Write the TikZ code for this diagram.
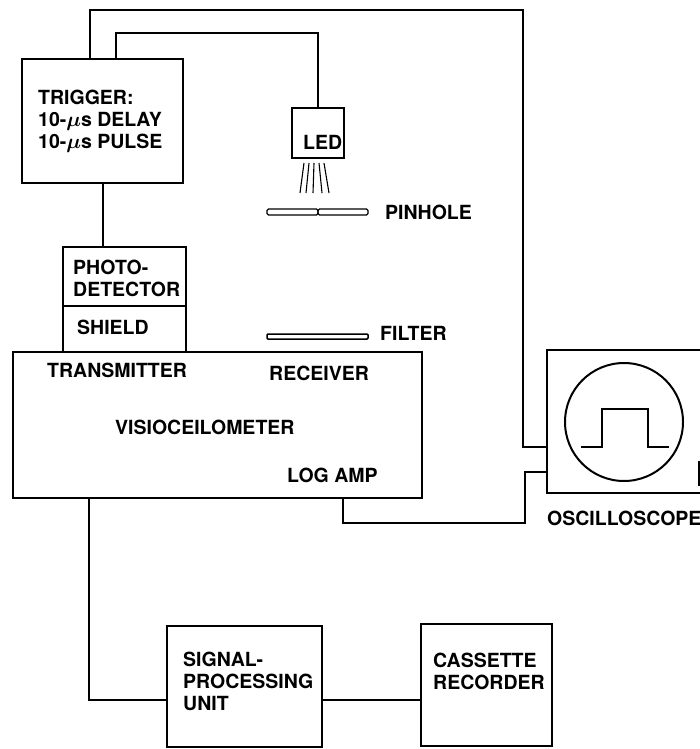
\documentclass[tikz,border=0pt]{standalone}
\usepackage{fontspec}
\setmainfont{TeX Gyre Heros}

\tikzset{
  box/.style={draw, line width=2pt, inner sep=0pt},
  wire/.style={line width=2pt},
  lbl/.style={anchor=west, inner sep=0pt, align=left, font=\bfseries\boldmath\fontsize{19.5}{22}\selectfont},
}

\begin{document}
\begin{tikzpicture}[x=1pt, y=-1pt]
        \useasboundingbox (0,0) rectangle (700,749);
        \clip (0,0) rectangle (700,749);

        \node[box, minimum width=161pt, minimum height=124pt] (trig) at (102.5,121) {};
        \node[box, minimum width=123pt, minimum height=105pt] (photo) at (124.5,299.5) {};
        \node[box, minimum width=409pt, minimum height=146pt] (visio) at (217.5,425) {};
        \node[box, minimum width=52pt, minimum height=50pt] (led) at (318,133) {};
        \node[box, minimum width=180pt, minimum height=143pt] (osc) at (637,421.5) {};
        \node[box, circle, minimum size=118pt] (screen) at (624,422) {};
        \node[box, minimum width=155pt, minimum height=121pt] (spu) at (244.5,686.5) {};
        \node[box, minimum width=131pt, minimum height=122pt] (cas) at (486.5,685) {};

        \draw[wire] ([yshift=-6.5pt]photo.west) -- ([yshift=-6.5pt]photo.east);
        \draw[wire] (581,447) -- (602,447) -- (602,409) -- (648,409) -- (648,447) -- (669,447);
        \draw[wire] (699,462) rectangle (712,485);

        \foreach \a/\b in {304/300, 309/306, 314/313, 319/322, 324/329}
            \draw[line width=1.1pt] (\a,163) -- (\b,193);
        \draw[line width=1.2pt, rounded corners=1.5pt] (267,209) rectangle (318,215);
        \draw[line width=1.2pt, rounded corners=1.5pt] (318,209) rectangle (368,215);
        \draw[line width=1.5pt, rounded corners=1pt] (267,334) rectangle (368,339);

        \draw (38,121) node[lbl] (trigtxt) {TRIGGER:\\10-$\mu$s DELAY\\10-$\mu$s PULSE};
        \draw (73,278) node[lbl] (phototxt) {PHOTO-\\DETECTOR};
        \draw (77,327) node[lbl] (shieldtxt) {SHIELD};
        \draw (47,370) node[lbl] (trantxt) {TRANSMITTER};
        \draw (269,373) node[lbl] (rectxt) {RECEIVER};
        \draw (115,427) node[lbl] (visiotxt) {VISIOCEILOMETER};
        \draw (287,475) node[lbl] (logtxt) {LOG AMP};
        \draw (303,142) node[lbl] (ledtxt) {LED};
        \draw (385,212) node[lbl] (pintxt) {PINHOLE};
        \draw (380,333) node[lbl] (filtxt) {FILTER};
        \draw (547,518) node[lbl] (osctxt) {OSCILLOSCOPE};
        \draw (183,681) node[lbl] (spustxt) {SIGNAL-\\PROCESSING\\UNIT};
        \draw (433,671) node[lbl] (castxt) {CASSETTE\\RECORDER};

        \coordinate (outer) at (523,10);
        \coordinate (inner) at (318,33);
        \coordinate (lowret) at (525,523);

        \draw[wire] ([xshift=-12.5pt]trig.north) |- (outer) |- ([yshift=-25.5pt]osc.west);
        \draw[wire] ([xshift=13.5pt]trig.north) |- (inner) -- (led.north);
        \draw[wire] (trig.south) -- (trig.south |- photo.north);
        \draw[wire] ([xshift=125.5pt]visio.south) |- (lowret) |- ([yshift=-50.5pt]osc.west);
        \draw[wire] ([xshift=-128.5pt]visio.south) |- ([yshift=-13.5pt]spu.west);
        \draw[wire] ([yshift=-13.5pt]spu.east) -- ([yshift=-13.5pt]spu.east -| cas.west);
\end{tikzpicture}
\end{document}
